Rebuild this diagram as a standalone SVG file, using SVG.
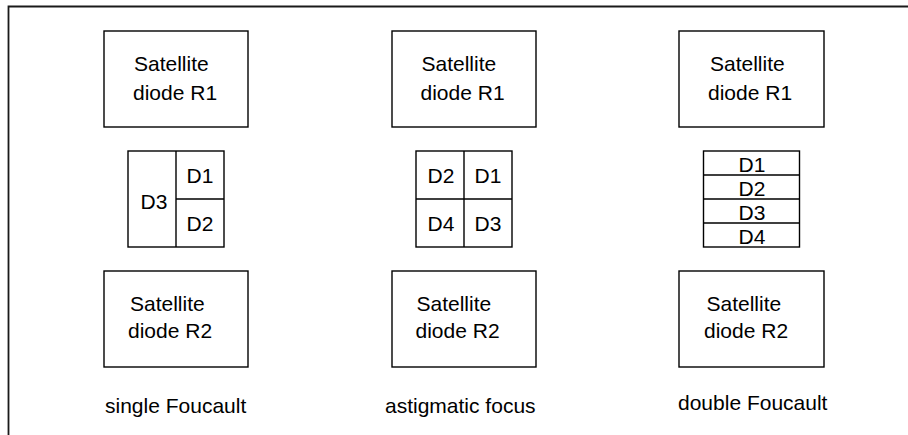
<svg xmlns="http://www.w3.org/2000/svg" width="908" height="435" viewBox="0 0 908 435">
<style>
.b{fill:#fff;stroke:#000;stroke-width:1.4}
.l{fill:none;stroke:#000;stroke-width:1.4}
.f{fill:none;stroke:#1a1a1a;stroke-width:1.8}
text{font-family:"Liberation Sans",Arial,sans-serif;font-size:21px;fill:#000}
.c{text-anchor:middle}
</style>
<rect width="908" height="435" fill="#fff"/>
<g id="frame"><path class="f" d="M8.5,435 V6.5 H908"/></g>
<g id="r1-single"><rect class="b" x="104" y="31" width="144" height="96"/><text x="134" y="71">Satellite</text><text x="133" y="100">diode R1</text></g>
<g id="det-single"><rect class="b" x="128" y="151" width="96" height="96"/><path class="l" d="M176,151 V247 M176,199 H224"/><text class="c" x="154" y="209">D3</text><text class="c" x="200" y="183">D1</text><text class="c" x="200" y="231">D2</text></g>
<g id="r2-single"><rect class="b" x="104" y="271" width="144" height="96"/><text x="130" y="311">Satellite</text><text x="128" y="338">diode R2</text></g>
<g id="lab-single"><text x="105" y="413">single Foucault</text></g>
<g id="r1-astig"><rect class="b" x="392" y="31" width="144" height="96"/><text x="421.5" y="71">Satellite</text><text x="420.5" y="100">diode R1</text></g>
<g id="det-astig"><rect class="b" x="416" y="151" width="96" height="96"/><path class="l" d="M464,151 V247 M416,199 H512"/><text class="c" x="441" y="183">D2</text><text class="c" x="488" y="183">D1</text><text class="c" x="441" y="231">D4</text><text class="c" x="488" y="231">D3</text></g>
<g id="r2-astig"><rect class="b" x="392" y="271" width="144" height="96"/><text x="416.5" y="311">Satellite</text><text x="415.5" y="338">diode R2</text></g>
<g id="lab-astig"><text x="385" y="413">astigmatic focus</text></g>
<g id="r1-double"><rect class="b" x="679" y="31" width="145" height="96"/><text x="710" y="71">Satellite</text><text x="708" y="100">diode R1</text></g>
<g id="det-double"><rect class="b" x="703.5" y="151" width="96" height="96"/><path class="l" d="M703.5,175 H799.5 M703.5,199 H799.5 M703.5,223 H799.5"/><text class="c" x="752" y="172">D1</text><text class="c" x="752" y="196">D2</text><text class="c" x="752" y="220">D3</text><text class="c" x="752" y="244">D4</text></g>
<g id="r2-double"><rect class="b" x="679" y="271" width="145" height="96"/><text x="706.5" y="311">Satellite</text><text x="704" y="338">diode R2</text></g>
<g id="lab-double"><text x="678" y="410">double Foucault</text></g>
<g id="connectors"></g>
</svg>
